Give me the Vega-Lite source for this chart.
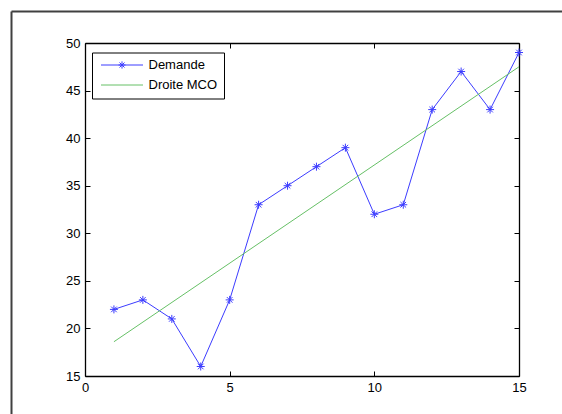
{
  "$schema": "https://vega.github.io/schema/vega-lite/v6.json",
  "width": 434,
  "height": 333,
  "autosize": {"type": "none"},
  "padding": {"left": 85, "top": 43, "right": 43, "bottom": 38},
  "background": "white",
  "config": {
    "view": {"stroke": null},
    "font": "Liberation Sans",
    "axis": {"labelFont": "Liberation Sans", "labelFontSize": 13, "labelColor": "black", "grid": false, "domainColor": "black", "domainWidth": 1.3, "tickColor": "black", "tickSize": -5, "labelFlush": false, "labelOverlap": false, "title": null}
  },
  "data": {"values": [
    {"x": 1, "y": 22, "series": "Demande"},
    {"x": 2, "y": 23, "series": "Demande"},
    {"x": 3, "y": 21, "series": "Demande"},
    {"x": 4, "y": 16, "series": "Demande"},
    {"x": 5, "y": 23, "series": "Demande"},
    {"x": 6, "y": 33, "series": "Demande"},
    {"x": 7, "y": 35, "series": "Demande"},
    {"x": 8, "y": 37, "series": "Demande"},
    {"x": 9, "y": 39, "series": "Demande"},
    {"x": 10, "y": 32, "series": "Demande"},
    {"x": 11, "y": 33, "series": "Demande"},
    {"x": 12, "y": 43, "series": "Demande"},
    {"x": 13, "y": 47, "series": "Demande"},
    {"x": 14, "y": 43, "series": "Demande"},
    {"x": 15, "y": 49, "series": "Demande"},
    {"x": 1, "y": 18.6, "series": "Droite MCO"},
    {"x": 15, "y": 47.5, "series": "Droite MCO"}
  ]},
  "resolve": {"axis": {"x": "independent", "y": "independent"}, "scale": {"x": "independent", "y": "independent"}},
  "layer": [
    {
      "mark": {"type": "line", "strokeWidth": 1},
      "encoding": {
        "x": {"field": "x", "type": "quantitative", "scale": {"domain": [0, 15], "nice": false, "zero": false},
              "axis": {"orient": "bottom", "values": [0, 5, 10, 15], "labelPadding": 10}},
        "y": {"field": "y", "type": "quantitative", "scale": {"domain": [15, 50], "nice": false, "zero": false},
              "axis": {"orient": "left", "values": [15, 20, 25, 30, 35, 40, 45, 50], "labelPadding": 10}},
        "color": {"field": "series", "type": "nominal",
          "scale": {"domain": ["Demande", "Droite MCO"], "range": ["#3c3cff", "#66c066"]},
          "legend": {
            "title": null, "orient": "none", "legendX": 7, "legendY": 9.5,
            "strokeColor": "black", "fillColor": "white", "padding": 6,
            "labelFont": "Liberation Sans", "labelFontSize": 13, "labelColor": "black",
            "symbolSize": 16, "symbolStrokeWidth": 1, "symbolOffset": 17.5, "labelOffset": 20, "rowPadding": 6,
            "encode": {"symbols": {"update": {
              "shape": {"signal": "datum.value === 'Demande' ? 'M-10.5,0L10.5,0M-1.75,0L1.75,0M0,-1.8L0,1.8M-1.25,-1.25L1.25,1.25M-1.25,1.25L1.25,-1.25' : 'M-10.5,0L10.5,0'"},
              "fill": {"value": "transparent"}
            }}}
          }}
      }
    },
    {
      "transform": [{"filter": "datum.series === 'Demande'"}],
      "mark": {"type": "point", "filled": false, "color": "#3c3cff", "strokeWidth": 1, "size": 64, "opacity": 1,
               "shape": "M-1,0L1,0M0,-1L0,1M-0.7,-0.7L0.7,0.7M-0.7,0.7L0.7,-0.7"},
      "encoding": {
        "x": {"field": "x", "type": "quantitative", "scale": {"domain": [0, 15], "nice": false, "zero": false},
              "axis": {"orient": "top", "values": [0, 5, 10, 15], "labels": false}},
        "y": {"field": "y", "type": "quantitative", "scale": {"domain": [15, 50], "nice": false, "zero": false},
              "axis": {"orient": "right", "values": [15, 20, 25, 30, 35, 40, 45, 50], "labels": false}}
      }
    },
    {
      "transform": [{"filter": "datum.series === 'Droite MCO'"}],
      "mark": {"type": "point", "opacity": 0},
      "encoding": {
        "x": {"field": "x", "type": "quantitative", "scale": {"domain": [0, 15], "nice": false, "zero": false, "range": [-74, 477]},
              "axis": {"orient": "top", "offset": 32, "labels": false, "ticks": false, "domainColor": "#404040", "domainWidth": 2}},
        "y": {"field": "y", "type": "quantitative", "scale": {"domain": [15, 50], "nice": false, "zero": false}, "axis": null}
      }
    },
    {
      "transform": [{"filter": "datum.series === 'Droite MCO'"}],
      "mark": {"type": "point", "opacity": 0},
      "encoding": {
        "x": {"field": "x", "type": "quantitative", "scale": {"domain": [0, 15], "nice": false, "zero": false}, "axis": null},
        "y": {"field": "y", "type": "quantitative", "scale": {"domain": [15, 50], "nice": false, "zero": false, "range": [371, -32]},
              "axis": {"orient": "right", "offset": -508, "labels": false, "ticks": false, "domainColor": "#404040", "domainWidth": 2}}
      }
    }
  ]
}
